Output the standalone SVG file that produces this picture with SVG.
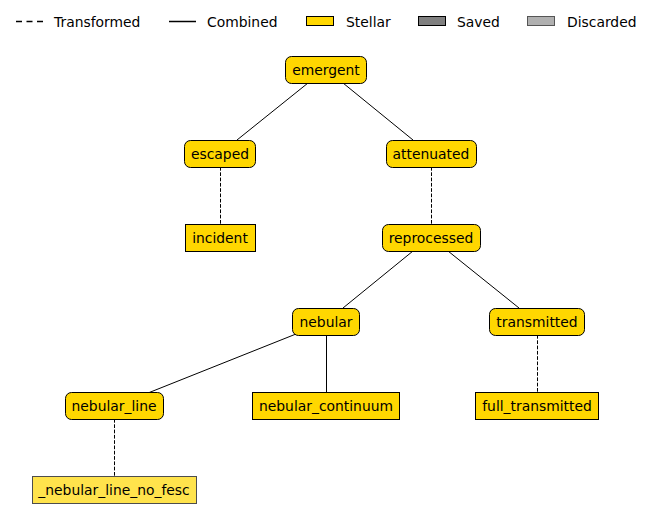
<svg xmlns="http://www.w3.org/2000/svg" width="651" height="521" viewBox="0 0 651 521">
<style>
text{font-family:"DejaVu Sans","Liberation Sans",sans-serif;font-size:13.89px;fill:#000;}
.n text{text-anchor:middle;dominant-baseline:central;}
.lg text{dominant-baseline:central;}
.box{fill:#FFD700;stroke:#000;stroke-width:1;}
.disc{fill:#FFE34C;stroke:#4D4D4D;stroke-width:1;}
.e{stroke:#000;stroke-width:1;fill:none;}
.d{stroke-dasharray:3.7 1.6;}
</style>
<rect width="651" height="521" fill="#fff"/>
<g id="legend" class="lg">
<line x1="16" y1="21.5" x2="43" y2="21.5" stroke="#000" stroke-width="1.5" stroke-dasharray="6 4.5"/>
<text x="54" y="21.5">Transformed</text>
<line x1="169" y1="21.5" x2="196" y2="21.5" stroke="#000" stroke-width="1.5"/>
<text x="207" y="21.5">Combined</text>
<rect x="306.5" y="16.5" width="27" height="9" fill="#FFD700" stroke="#000"/>
<text x="346" y="21.5">Stellar</text>
<rect x="418.5" y="16.5" width="27" height="9" fill="#808080" stroke="#000"/>
<text x="457" y="21.5">Saved</text>
<rect x="527.5" y="16.5" width="27" height="9" fill="#B0B0B0" stroke="#555"/>
<text x="567" y="21.5">Discarded</text>
</g>
<g id="edges">
<line class="e" x1="308" y1="83" x2="237" y2="140"/>
<line class="e" x1="343" y1="83" x2="413" y2="140"/>
<line class="e d" x1="220.5" y1="167" x2="220.5" y2="224"/>
<line class="e d" x1="431.5" y1="167" x2="431.5" y2="224"/>
<line class="e" x1="413" y1="251" x2="343" y2="308"/>
<line class="e" x1="448" y1="251" x2="519" y2="308"/>
<line class="e" x1="296" y1="334" x2="148" y2="393"/>
<line class="e" x1="326.5" y1="335" x2="326.5" y2="392"/>
<line class="e d" x1="537.5" y1="335" x2="537.5" y2="392"/>
<line class="e d" x1="114.5" y1="419" x2="114.5" y2="477"/>
</g>
<g id="emergent" class="n"><rect class="box" x="285.5" y="56.5" width="81" height="27" rx="6"/><text x="326" y="69.5">emergent</text></g>
<g id="escaped" class="n"><rect class="box" x="184.5" y="140.5" width="71" height="27" rx="6"/><text x="220" y="153.5">escaped</text></g>
<g id="attenuated" class="n"><rect class="box" x="386.5" y="140.5" width="90" height="27" rx="6"/><text x="431" y="153.5">attenuated</text></g>
<g id="incident" class="n"><rect class="box" x="185.5" y="224.5" width="70" height="27"/><text x="220" y="237.5">incident</text></g>
<g id="reprocessed" class="n"><rect class="box" x="382.5" y="224.5" width="98" height="27" rx="6"/><text x="431" y="237.5">reprocessed</text></g>
<g id="nebular" class="n"><rect class="box" x="292.5" y="308.5" width="67" height="27" rx="6"/><text x="326" y="321.5">nebular</text></g>
<g id="transmitted" class="n"><rect class="box" x="489.5" y="308.5" width="95" height="27" rx="6"/><text x="537" y="321.5">transmitted</text></g>
<g id="nebular_line" class="n"><rect class="box" x="65.5" y="392.5" width="98" height="27" rx="6"/><text x="114" y="405.5">nebular_line</text></g>
<g id="nebular_continuum" class="n"><rect class="box" x="252.5" y="392.5" width="147" height="27"/><text x="326" y="405.5">nebular_continuum</text></g>
<g id="full_transmitted" class="n"><rect class="box" x="475.5" y="392.5" width="123" height="27"/><text x="537" y="405.5">full_transmitted</text></g>
<g id="_nebular_line_no_fesc" class="n"><rect class="disc" x="32.5" y="476.5" width="164" height="27"/><text x="114" y="489.5">_nebular_line_no_fesc</text></g>
</svg>
